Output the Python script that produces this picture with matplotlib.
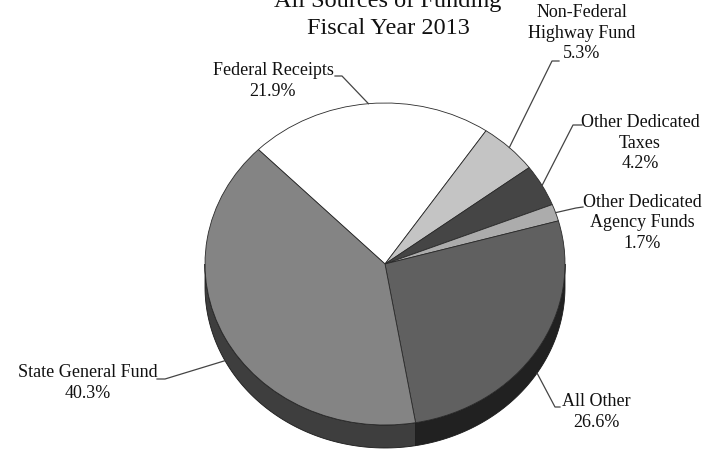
import numpy as np
import matplotlib.pyplot as plt

labels = ['Federal Receipts', 'Non-Federal\nHighway Fund', 'Other Dedicated\nTaxes',
          'Other Dedicated\nAgency Funds', 'All Other', 'State General Fund']
shares = [21.9, 5.3, 4.2, 1.7, 26.6, 40.3]
top_colors = ['#ffffff', '#c4c4c4', '#454545', '#acacac', '#606060', '#848484']
side_colors = ['#7a7a7a', '#5a5a5a', '#202020', '#505050', '#212121', '#3e3e3e']

plt.rcParams['font.family'] = ['Liberation Serif', 'DejaVu Serif']

# pie geometry in pixels (from the top-left corner)
CX, CY = 385, 264
RX, RY = 180, 161
DEPTH = 23 / RY
START = 134.7


def px(x, y):
    return (x - CX) / RX, (CY - y) / RY


fig = plt.figure(figsize=(7.17, 4.51), dpi=100)
ax = fig.add_axes([0, 0, 1, 1])

wedges, _ = ax.pie(shares, colors=top_colors, startangle=START, counterclock=False,
                   wedgeprops=dict(edgecolor='#2a2a2a', linewidth=0.6, zorder=3))
ax.set_aspect('auto')
ax.set_xlim(-CX / RX, (717 - CX) / RX)
ax.set_ylim(-(451 - CY) / RY, CY / RY)
ax.axis('off')

# slice angles, going clockwise from the start angle
ends = START - np.cumsum(shares) * 3.6
starts = ends + np.array(shares) * 3.6

# side wall of the tilted pie, only the front half shows
for a0, a1, c in zip(starts, ends, side_colors):
    lo, hi = a1 % 360, a0 % 360
    if hi <= lo:
        hi += 360
    for base in (0, 360):
        s, e = max(lo, 180 + base), min(hi, 360 + base)
        if e <= s:
            continue
        t = np.radians(np.linspace(s, e, 80))
        xs = np.concatenate([np.cos(t), np.cos(t[::-1])])
        ys = np.concatenate([np.sin(t), np.sin(t[::-1]) - DEPTH])
        ax.fill(xs, ys, facecolor=c, edgecolor='#1a1a1a', linewidth=0.6, zorder=2)

# label text centres and leader elbows, in pixels
text_pos = [(273, 81), (582, 33), (640, 143), (642, 223), (596, 412), (88, 383)]
elbows = [((335, 76), (342, 76)), ((559, 61), (552, 61)), ((582, 125), (573, 125)),
          ((583, 207), (576, 208)), ((560, 407), (555, 407)), ((157, 379), (165, 379))]

for lab, v, a0, a1, tp, (p0, p1) in zip(labels, shares, starts, ends, text_pos, elbows):
    mid = np.radians((a0 + a1) / 2)
    ex, ey = np.cos(mid), np.sin(mid)
    if ey < 0:
        ey -= DEPTH
    x0, y0 = px(*p0)
    x1, y1 = px(*p1)
    ax.plot([x0, x1, ex], [y0, y1, ey], color='#444444', lw=0.9, zorder=4)
    tx, ty = px(*tp)
    ax.text(tx, ty, f'{lab}\n{v}%', ha='center', va='center', fontsize=13,
            linespacing=1.3, color='#111111', zorder=5)

tx, ty = px(388, 7)
ax.text(tx, ty, 'All Sources of Funding', ha='center', va='baseline', fontsize=17.5, color='#111111')
tx, ty = px(388, 34)
ax.text(tx, ty, 'Fiscal Year 2013', ha='center', va='baseline', fontsize=17.5, color='#111111')

fig.savefig('out.png', dpi=100)
